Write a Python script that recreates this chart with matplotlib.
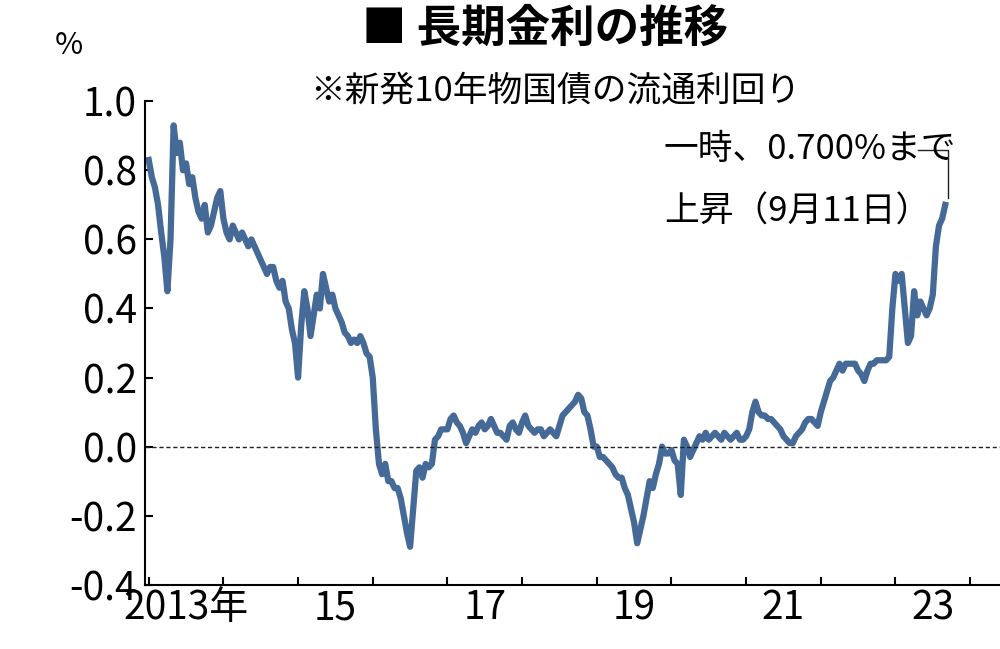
import matplotlib
matplotlib.use("Agg")
import matplotlib.pyplot as plt
import numpy as np

plt.rcParams['font.family'] = ['Noto Sans CJK JP', 'DejaVu Sans']

# semi-monthly values, 2013.0 .. 2023.7
y2013 = [0.83,0.78,0.75,0.70,0.62,0.55,0.45,0.60,0.93,0.85,0.88,0.80,0.82,0.76,0.78,0.72,0.68,0.66,0.70,0.62,0.64,0.68,0.72,0.74]
y2014 = [0.66,0.62,0.60,0.64,0.62,0.60,0.62,0.60,0.58,0.60,0.58,0.56,0.54,0.52,0.50,0.52,0.52,0.48,0.46,0.48,0.42,0.40,0.34,0.30]
y2015 = [0.20,0.35,0.45,0.40,0.32,0.38,0.44,0.40,0.50,0.46,0.42,0.44,0.40,0.38,0.36,0.33,0.32,0.30,0.31,0.30,0.32,0.30,0.27,0.26]
y2016 = [0.20,0.05,-0.05,-0.08,-0.05,-0.10,-0.10,-0.12,-0.12,-0.15,-0.20,-0.25,-0.29,-0.18,-0.07,-0.06,-0.09,-0.05,-0.06,-0.05,0.02,0.03,0.05,0.05]
y2017 = [0.05,0.08,0.09,0.07,0.06,0.04,0.01,0.03,0.05,0.04,0.06,0.07,0.05,0.06,0.08,0.06,0.04,0.04,0.03,0.02,0.06,0.07,0.05,0.04]
y2018 = [0.07,0.09,0.06,0.05,0.04,0.05,0.05,0.03,0.04,0.05,0.04,0.03,0.06,0.09,0.10,0.11,0.12,0.13,0.15,0.14,0.10,0.09,0.05,0.00]
y2019 = [0.00,-0.03,-0.03,-0.04,-0.05,-0.06,-0.08,-0.09,-0.09,-0.12,-0.14,-0.18,-0.22,-0.28,-0.24,-0.20,-0.15,-0.10,-0.12,-0.08,-0.05,0.00,-0.02,-0.02]
y2020 = [-0.01,-0.04,-0.05,-0.14,0.02,0.00,-0.03,-0.01,0.01,0.03,0.02,0.04,0.02,0.03,0.04,0.03,0.02,0.04,0.03,0.02,0.03,0.04,0.02,0.02]
y2021 = [0.03,0.05,0.10,0.13,0.10,0.09,0.09,0.08,0.08,0.07,0.06,0.05,0.03,0.02,0.01,0.01,0.03,0.04,0.05,0.07,0.08,0.08,0.07,0.06]
y2022 = [0.10,0.13,0.16,0.19,0.20,0.22,0.24,0.22,0.24,0.24,0.24,0.24,0.22,0.21,0.19,0.22,0.24,0.24,0.25,0.25,0.25,0.25,0.26,0.40]
y2023 = [0.50,0.48,0.50,0.40,0.30,0.32,0.45,0.38,0.42,0.40,0.38,0.40,0.44,0.58,0.64,0.66,0.70]

values = y2013+y2014+y2015+y2016+y2017+y2018+y2019+y2020+y2021+y2022+y2023
dates = 2013 + np.arange(len(values))/24.0

ytick_vals = [-0.4,-0.2,0.0,0.2,0.4,0.6,0.8,1.0]
ytick_labels = ['-0.4','-0.2','0.0','0.2','0.4','0.6','0.8','1.0']
year_pos = [2013.5,2015.5,2017.5,2019.5,2021.5,2023.5]
year_labels = ['2013年','15','17','19','21','23']

fig = plt.figure(figsize=(10,6.49), dpi=100)
ax = fig.add_axes([0.145,0.099,0.855,0.745])
ax.plot(dates, values, color='#466a98', lw=4.5, solid_joinstyle='round')
ax.axhline(0, color='#222222', lw=1, ls=(0,(3,2)))
ax.set_xlim(2013-0.05, 2024.4)
ax.set_ylim(-0.4, 1.0)
for s in ['top','right']:
    ax.spines[s].set_visible(False)
ax.spines['left'].set_linewidth(1.5)
ax.spines['bottom'].set_linewidth(1.5)
ax.set_yticks(ytick_vals)
ax.set_yticklabels(ytick_labels, fontsize=28)
ax.tick_params(axis='y', direction='in', length=6, width=1.5, pad=6)
ax.set_xticks(np.arange(2013, 2025, 1))
ax.set_xticklabels([])
ax.tick_params(axis='x', direction='in', length=6, width=1.5)
for p, l in zip(year_pos, year_labels):
    ax.text(p, -0.41, l, ha='center', va='top', fontsize=28, transform=ax.transData)

fig.text(0.055, 0.93, '%', fontsize=22, ha='left', va='center')
fig.text(0.545, 0.955, '■ 長期金利の推移', fontsize=32, fontweight='bold', ha='center', va='center')
fig.text(0.555, 0.86, '※新発10年物国債の流通利回り', fontsize=25, ha='center', va='center')
ax.text(2019.9, 0.86, '一時、0.700%まで', fontsize=25, ha='left', va='center')
ax.text(2019.9, 0.68, '上昇（9月11日）', fontsize=25, ha='left', va='center')
ax.plot([2023.3, 2023.7, 2023.7], [0.86, 0.86, 0.72], color='#222222', lw=1)

fig.savefig('out.png', dpi=100)
